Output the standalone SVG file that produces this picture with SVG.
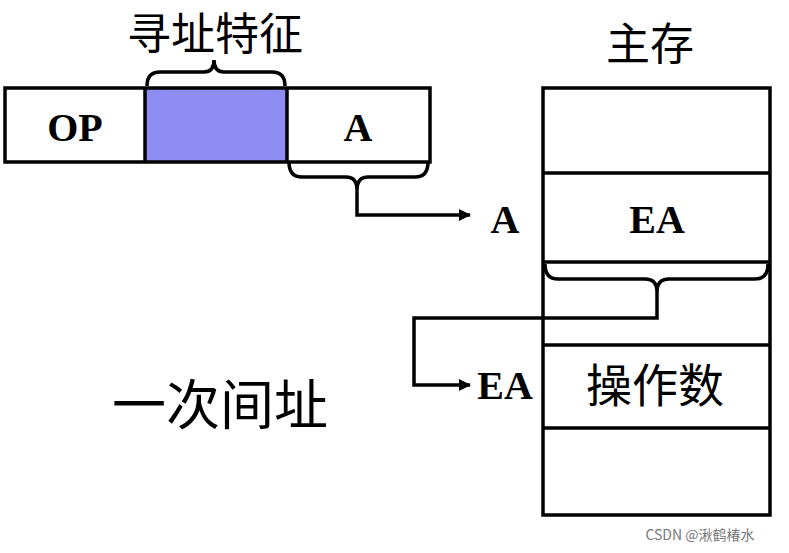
<svg xmlns="http://www.w3.org/2000/svg" width="789" height="553" viewBox="0 0 789 553">
<style>
.b{fill:none;stroke:#000;stroke-width:3.5}
.t{font-family:"Liberation Serif",serif;font-weight:bold;font-size:40px;text-anchor:middle}
.c{font-family:"Noto Sans CJK SC",sans-serif;text-anchor:middle}
</style>
<defs><marker id="ar" markerWidth="12" markerHeight="12" refX="11" refY="6" orient="auto" markerUnits="userSpaceOnUse"><path d="M0,0L12,6L0,12z"/></marker></defs>
<rect width="789" height="553" fill="#fff"/>
<g id="instr">
<rect x="145" y="88" width="142" height="74" fill="#8c8cf2"/>
<rect x="5" y="88" width="425" height="74" class="b"/>
<line x1="145" y1="88" x2="145" y2="162" class="b"/>
<line x1="287" y1="88" x2="287" y2="162" class="b"/>
<text x="75" y="141" class="t">OP</text>
<text x="358" y="141" class="t">A</text>
<text x="215" y="50" class="c" font-size="44">寻址特征</text>
</g>
<g id="mem">
<rect x="543" y="88" width="227" height="427" class="b"/>
<line x1="543" y1="173" x2="770" y2="173" class="b"/>
<line x1="543" y1="262" x2="770" y2="262" class="b"/>
<line x1="543" y1="345" x2="770" y2="345" class="b"/>
<line x1="543" y1="428" x2="770" y2="428" class="b"/>
<text x="650" y="60" class="c" font-size="44">主存</text>
<text x="657" y="233" class="t">EA</text>
<text x="655" y="402" class="c" font-size="46">操作数</text>
</g>
<g id="labels">
<text x="505" y="233" class="t">A</text>
<text x="505" y="399" class="t">EA</text>
<text x="220" y="425" class="c" font-size="54">一次间址</text>
<text x="700" y="540" style="font-family:'Noto Sans CJK SC',sans-serif;font-size:14px;fill:#777;text-anchor:middle">CSDN @湫鹤椿水</text>
</g>
<g id="connectors">
<path class="b" d="M147,86 Q147,72 160,72 L204,72 Q214,72 214,60 Q214,72 224,72 L272,72 Q285,72 285,86"/>
<path class="b" d="M289,162 Q289,177 302,177 L346,177 Q357,177 357,190 Q357,177 368,177 L415,177 Q428,177 428,162"/>
<path class="b" d="M357,190 L357,215 L470,215" marker-end="url(#ar)"/>
<path class="b" d="M545,264 Q545,279 558,279 L645,279 Q657,279 657,292 Q657,279 669,279 L755,279 Q768,279 768,264"/>
<path class="b" d="M657,292 L657,318 L414,318 L414,385 L470,385" marker-end="url(#ar)"/>
</g>
</svg>
